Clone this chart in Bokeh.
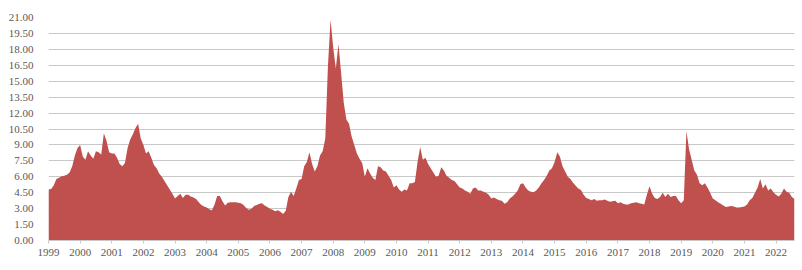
from bokeh.plotting import figure
from bokeh.models import FixedTicker, NumeralTickFormatter, Range1d
from bokeh.embed import file_html
from bokeh.resources import INLINE

start_year = 1999
# monthly values, one list per year
y1999 = [4.8, 4.85, 5.2, 5.8, 5.9, 6.05, 6.1, 6.2, 6.4, 7.0, 8.0, 8.7]
y2000 = [9.0, 7.9, 7.6, 8.4, 8.0, 7.7, 8.4, 8.3, 8.1, 10.1, 9.4, 8.3]
y2001 = [8.2, 8.2, 7.8, 7.2, 7.0, 7.3, 8.7, 9.5, 10.0, 10.6, 11.0, 9.6]
y2002 = [9.0, 8.2, 8.4, 7.8, 7.1, 6.8, 6.3, 6.0, 5.6, 5.2, 4.8, 4.4]
y2003 = [3.95, 4.2, 4.4, 4.0, 4.3, 4.3, 4.15, 4.05, 3.9, 3.6, 3.35, 3.2]
y2004 = [3.1, 2.95, 2.85, 3.4, 4.2, 4.2, 3.7, 3.3, 3.55, 3.6, 3.6, 3.6]
y2005 = [3.55, 3.5, 3.35, 3.05, 2.9, 3.0, 3.25, 3.35, 3.45, 3.5, 3.3, 3.15]
y2006 = [3.0, 2.9, 2.75, 2.85, 2.7, 2.5, 2.8, 4.1, 4.6, 4.2, 4.9, 5.7]
y2007 = [5.8, 7.0, 7.4, 8.3, 7.2, 6.5, 7.0, 8.0, 8.4, 9.6, 16.4, 20.8]
y2008 = [18.2, 16.2, 18.5, 15.8, 13.0, 11.4, 11.0, 9.8, 9.0, 8.2, 7.7, 7.3]
y2009 = [6.0, 6.8, 6.3, 5.9, 5.7, 7.0, 6.9, 6.6, 6.5, 6.1, 5.7, 5.0]
y2010 = [5.2, 4.8, 4.6, 4.8, 4.7, 5.4, 5.4, 5.5, 7.4, 8.8, 7.6, 7.8]
y2011 = [7.2, 6.8, 6.4, 6.0, 6.1, 6.9, 6.6, 6.1, 5.9, 5.7, 5.6, 5.3]
y2012 = [5.0, 4.9, 4.7, 4.6, 4.4, 4.9, 5.0, 4.7, 4.7, 4.6, 4.5, 4.3]
y2013 = [3.95, 4.05, 3.9, 3.8, 3.75, 3.45, 3.6, 3.95, 4.15, 4.4, 4.7, 5.3]
y2014 = [5.4, 5.0, 4.7, 4.6, 4.55, 4.7, 5.0, 5.4, 5.7, 6.1, 6.6, 6.8]
y2015 = [7.4, 8.3, 7.9, 7.0, 6.5, 6.0, 5.8, 5.45, 5.15, 4.9, 4.75, 4.3]
y2016 = [4.0, 3.9, 3.8, 3.9, 3.75, 3.8, 3.8, 3.85, 3.75, 3.65, 3.7, 3.75]
y2017 = [3.5, 3.6, 3.45, 3.4, 3.4, 3.5, 3.55, 3.6, 3.5, 3.45, 3.4, 4.3]
y2018 = [5.1, 4.4, 4.0, 3.9, 4.1, 4.5, 4.1, 4.4, 4.1, 4.2, 4.2, 3.8]
y2019 = [3.5, 3.8, 10.3, 8.6, 7.6, 6.6, 6.2, 5.4, 5.2, 5.4, 5.0, 4.5]
y2020 = [3.95, 3.8, 3.6, 3.45, 3.3, 3.15, 3.2, 3.25, 3.2, 3.1, 3.1, 3.15]
y2021 = [3.2, 3.4, 3.8, 4.0, 4.5, 5.0, 5.8, 4.9, 5.3, 4.7, 4.9, 4.55]
y2022 = [4.3, 4.15, 4.4, 4.9, 4.6, 4.5, 4.1, 3.9]

yearly = [y1999, y2000, y2001, y2002, y2003, y2004, y2005, y2006, y2007,
          y2008, y2009, y2010, y2011, y2012, y2013, y2014, y2015, y2016,
          y2017, y2018, y2019, y2020, y2021, y2022]

year_labels = [str(y) for y in range(1999, 2023)]
y_ticks = [0, 1.5, 3, 4.5, 6, 7.5, 9, 10.5, 12, 13.5, 15, 16.5, 18, 19.5, 21]

values = [v for yr in yearly for v in yr]
xs = [start_year + i / 12.0 for i in range(len(values))]

p = figure(width=802, height=270, output_backend="svg", toolbar_location=None,
           x_range=Range1d(start_year, xs[-1]), y_range=Range1d(0, 21),
           min_border_left=48, min_border_right=8, min_border_top=17,
           min_border_bottom=30)
p.outline_line_color = None
p.background_fill_color = "white"
p.border_fill_color = "white"

p.varea(x=xs, y1=[0] * len(values), y2=values, fill_color="#C0504D", fill_alpha=1.0)

p.xgrid.grid_line_color = None
p.ygrid.grid_line_color = "#C8C8C8"
p.ygrid.grid_line_width = 1
p.ygrid.ticker = FixedTicker(ticks=y_ticks)

ya = p.yaxis[0]
ya.ticker = FixedTicker(ticks=y_ticks)
ya.formatter = NumeralTickFormatter(format="0.00")
ya.axis_line_color = None
ya.major_tick_line_color = None
ya.minor_tick_line_color = None
ya.major_label_text_font = "Liberation Serif"
ya.major_label_text_font_size = "11px"
ya.major_label_text_color = "#595959"
ya.major_label_standoff = 9

xa = p.xaxis[0]
xa.ticker = FixedTicker(ticks=list(range(1999, 2023)))
xa.major_label_overrides = {float(y): lab for y, lab in zip(range(1999, 2023), year_labels)}
xa.axis_line_color = "#C8C8C8"
xa.major_tick_line_color = "#C8C8C8"
xa.major_tick_out = 3
xa.major_tick_in = 0
xa.minor_tick_line_color = None
xa.major_label_text_font = "Liberation Serif"
xa.major_label_text_font_size = "11px"
xa.major_label_text_color = "#595959"
xa.major_label_standoff = 5

open("out.html", "w").write(file_html(p, INLINE))
